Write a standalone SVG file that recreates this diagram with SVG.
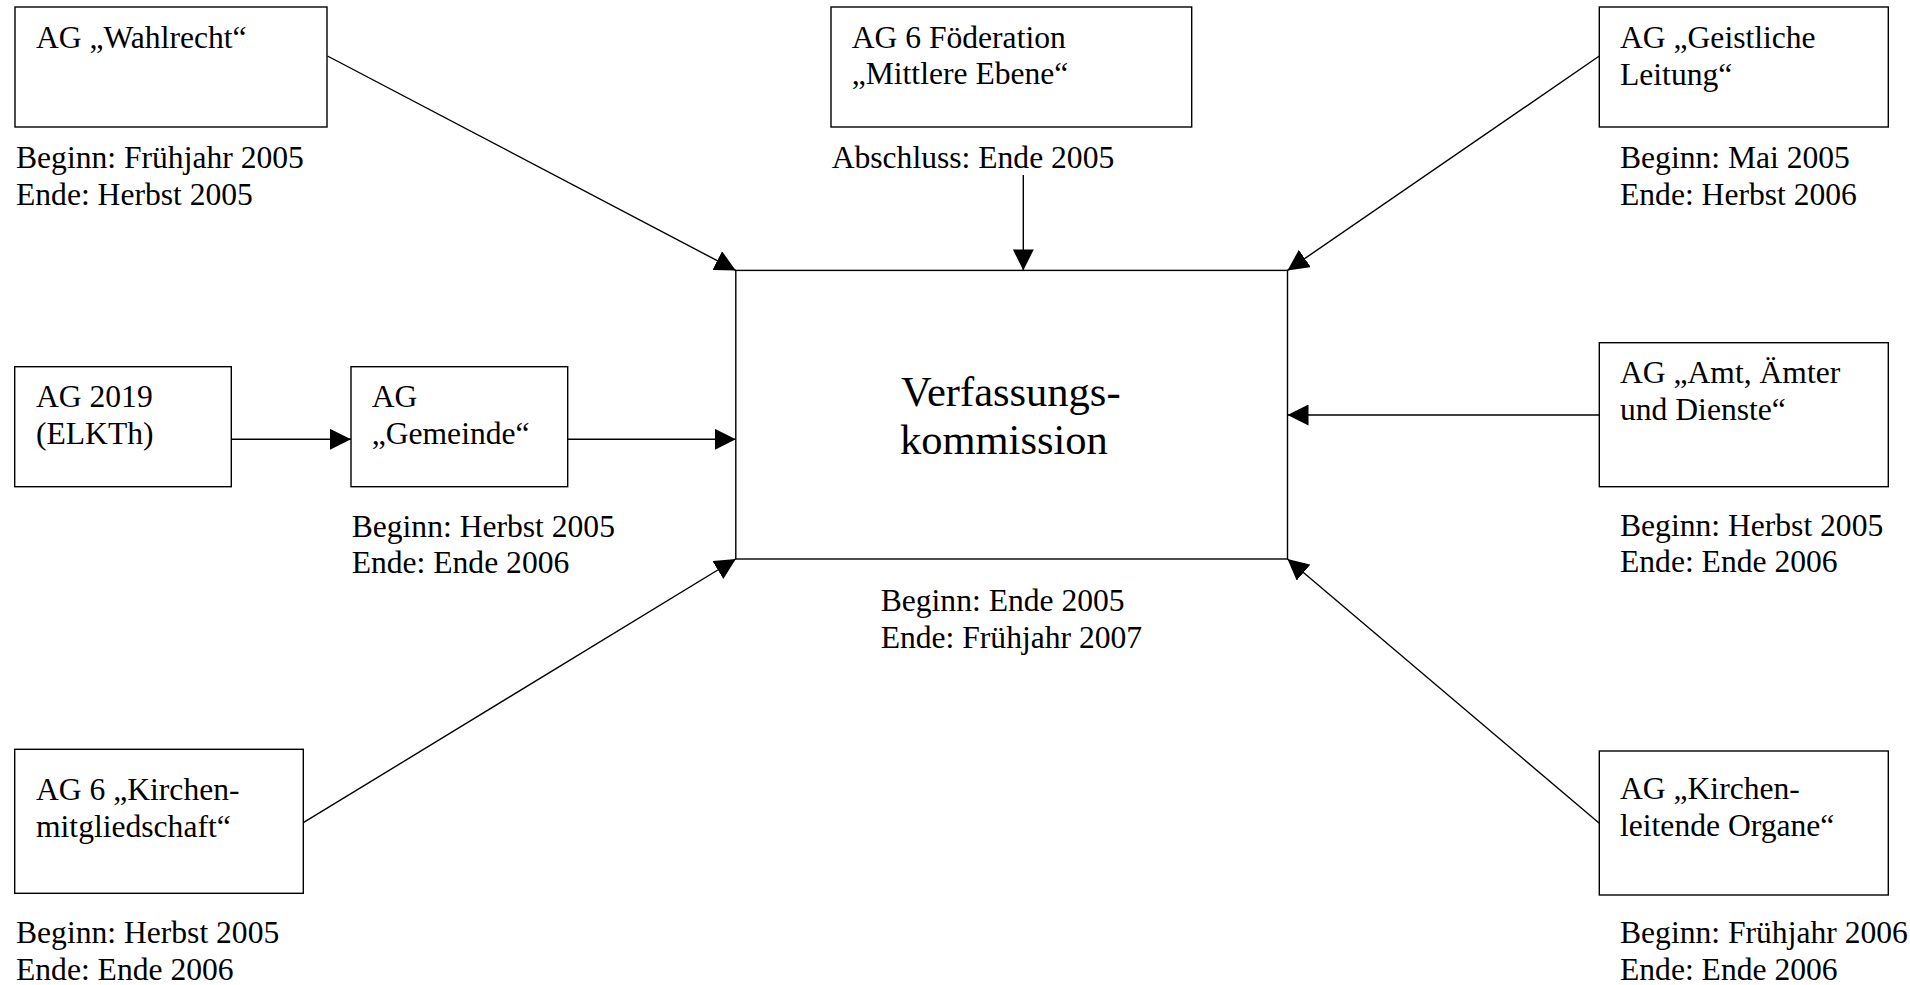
<svg xmlns="http://www.w3.org/2000/svg" width="1910" height="985" viewBox="0 0 1910 985">
<defs>
<style>
.box{fill:#fff;stroke:#000;stroke-width:1.4}
.t{font-family:"Liberation Serif","Times New Roman",serif;font-size:31.6px;fill:#000}
.big{font-family:"Liberation Serif","Times New Roman",serif;font-size:42.5px;fill:#000}
.c{fill:none;stroke:#000;stroke-width:1.4;marker-end:url(#ah)}
</style>
<marker id="ah" markerUnits="userSpaceOnUse" markerWidth="21" markerHeight="21" viewBox="0 0 21 21" refX="21" refY="10.5" orient="auto">
<path d="M0,0 L21,10.5 L0,21 Z" fill="#000"/>
</marker>
</defs>
<rect width="1910" height="985" fill="#fff"/>

<g id="connectors">
<line class="c" x1="327.5" y1="56" x2="735.8" y2="270.4"/>
<line class="c" x1="1023.3" y1="175" x2="1023.3" y2="270.4"/>
<line class="c" x1="1599.3" y1="56" x2="1287.5" y2="270.4"/>
<line class="c" x1="1599.3" y1="415" x2="1287.5" y2="415"/>
<line class="c" x1="231.3" y1="439.3" x2="351" y2="439.3"/>
<line class="c" x1="567.7" y1="439.3" x2="735.8" y2="439.3"/>
<line class="c" x1="303.3" y1="822.7" x2="735.8" y2="559"/>
<line class="c" x1="1599.3" y1="823.3" x2="1287.5" y2="559"/>
</g>

<g id="node-wahlrecht">
<rect class="box" x="15" y="7" width="312" height="120"/>
<text class="t" x="36" y="48">AG „Wahlrecht“</text>
<text class="t" x="16" y="168.3">Beginn: Frühjahr 2005</text>
<text class="t" x="16" y="204.5">Ende: Herbst 2005</text>
</g>

<g id="node-foederation">
<rect class="box" x="831" y="7" width="360.7" height="120"/>
<text class="t" x="851.7" y="47.5">AG 6 Föderation</text>
<text class="t" x="851.7" y="84">„Mittlere Ebene“</text>
<text class="t" x="831.7" y="168.3">Abschluss: Ende 2005</text>
</g>

<g id="node-geistliche">
<rect class="box" x="1599.3" y="7" width="289" height="120"/>
<text class="t" x="1620" y="48">AG „Geistliche</text>
<text class="t" x="1620" y="84.5">Leitung“</text>
<text class="t" x="1620" y="168.3">Beginn: Mai 2005</text>
<text class="t" x="1620" y="204.5">Ende: Herbst 2006</text>
</g>

<g id="node-ag2019">
<rect class="box" x="14.7" y="366.7" width="216.6" height="120"/>
<text class="t" x="36" y="406.7">AG 2019</text>
<text class="t" x="36" y="443.5">(ELKTh)</text>
</g>

<g id="node-gemeinde">
<rect class="box" x="351" y="366.7" width="216.7" height="120"/>
<text class="t" x="371.7" y="406.7">AG</text>
<text class="t" x="371.7" y="443.5">„Gemeinde“</text>
<text class="t" x="351.7" y="536.7">Beginn: Herbst 2005</text>
<text class="t" x="351.7" y="572.7">Ende: Ende 2006</text>
</g>

<g id="node-verfassungskommission">
<rect class="box" x="735.8" y="270.4" width="551.7" height="288.6"/>
<text class="big" x="901" y="406">Verfassungs-</text>
<text class="big" x="900" y="454">kommission</text>
<text class="t" x="880.7" y="611">Beginn: Ende 2005</text>
<text class="t" x="880.7" y="647.7">Ende: Frühjahr 2007</text>
</g>

<g id="node-amt">
<rect class="box" x="1599.3" y="342.7" width="289" height="144"/>
<text class="t" x="1620" y="383.3">AG „Amt, Ämter</text>
<text class="t" x="1620" y="420">und Dienste“</text>
<text class="t" x="1620" y="535.5">Beginn: Herbst 2005</text>
<text class="t" x="1620" y="571.7">Ende: Ende 2006</text>
</g>

<g id="node-kirchenmitgliedschaft">
<rect class="box" x="14.7" y="749.3" width="288.6" height="144"/>
<text class="t" x="36" y="799.5">AG 6 „Kirchen-</text>
<text class="t" x="36" y="836.5">mitgliedschaft“</text>
<text class="t" x="16" y="943.3">Beginn: Herbst 2005</text>
<text class="t" x="16" y="979.5">Ende: Ende 2006</text>
</g>

<g id="node-kirchenleitende">
<rect class="box" x="1599.3" y="751" width="289" height="144"/>
<text class="t" x="1620" y="799">AG „Kirchen-</text>
<text class="t" x="1620" y="835.5">leitende Organe“</text>
<text class="t" x="1620" y="943.3">Beginn: Frühjahr 2006</text>
<text class="t" x="1620" y="979.5">Ende: Ende 2006</text>
</g>
</svg>
